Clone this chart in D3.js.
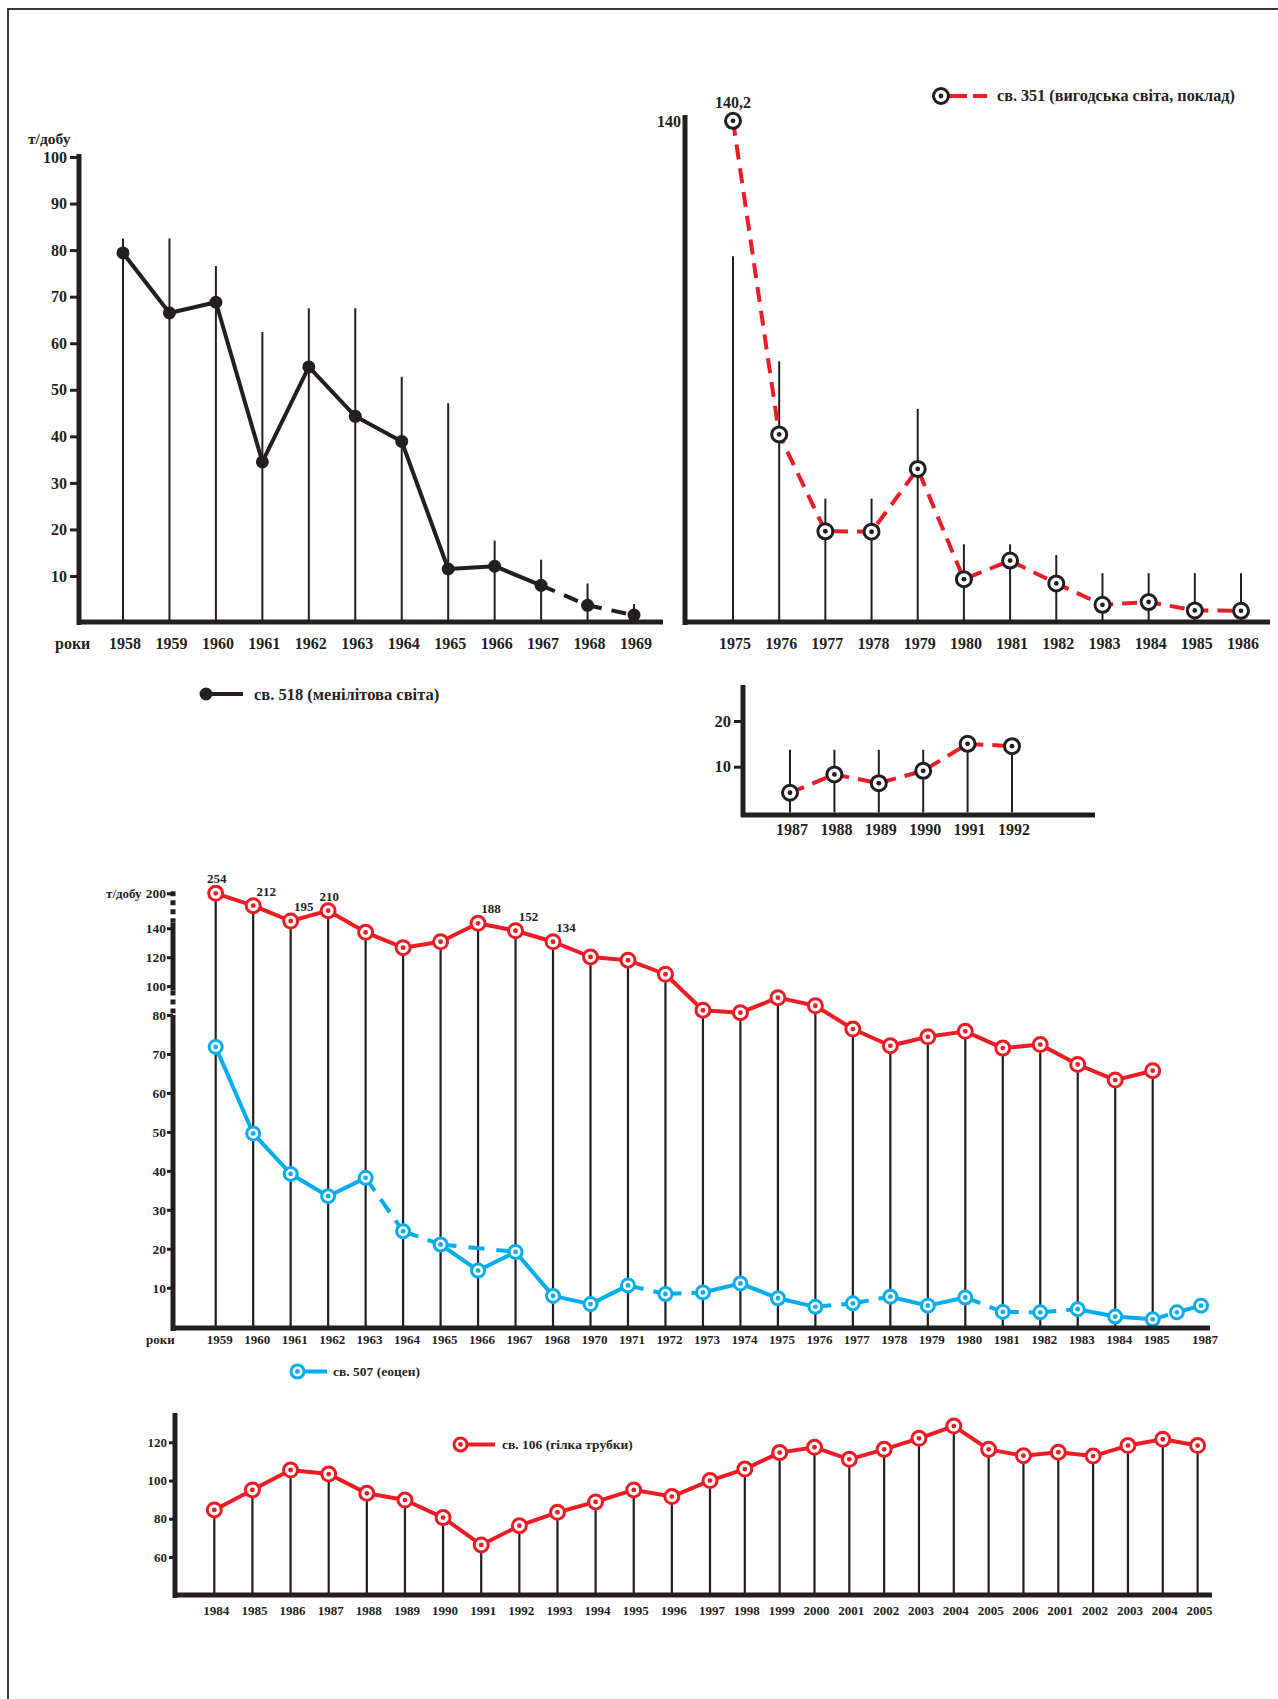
<!DOCTYPE html>
<html>
<head>
<meta charset="utf-8">
<script src="https://cdn.jsdelivr.net/npm/d3@7"></script>
<style>
body{margin:0;background:#fff;}
text{font-family:"Liberation Serif","Times New Roman",serif;font-weight:bold;fill:#231f20;}
</style>
</head>
<body>
<script>

// св. 518 (менілітова світа)
var years518 = [1958,1959,1960,1961,1962,1963,1964,1965,1966,1967,1968,1969]
var values518 = [79.4,66.5,68.8,34.5,54.9,44.3,38.9,11.5,12.1,8.0,3.7,1.6]
var tops518 = [82.5,82.5,76.6,62.4,67.5,67.5,52.8,47.1,17.6,13.5,8.4,4.0]
var ticks518 = [10,20,30,40,50,60,70,80,90,100]

// св. 351 (вигодська світа, поклад)
var years351 = [1975,1976,1977,1978,1979,1980,1981,1982,1983,1984,1985,1986]
var values351 = [140.2,40.4,19.6,19.5,33.0,9.3,13.3,8.4,3.8,4.4,2.6,2.5]
var tops351 = [78.7,56.1,26.6,26.6,45.9,16.8,16.8,14.5,10.6,10.6,10.6,10.6]

var years351b = [1987,1988,1989,1990,1991,1992]
var values351b = [4.3,8.3,6.4,9.1,15.0,14.5]
var tops351b = [13.7,13.7,13.7,13.7,15.0,14.5]
var ticks351b = [10,20]

// big chart: св. 507 (еоцен) and the red series
var years507 = ["1959","1960","1961","1962","1963","1964","1965","1966","1967","1968",
  "1970","1971","1972","1973","1974","1975","1976","1977","1978","1979","1980",
  "1981","1982","1983","1984","1985","","1987"]
var valuesRed = [200,178.8,152.5,170.2,137.2,126.6,130.7,148.6,138.3,130.7,
  120.2,117.9,108.2,83.3,81.6,92.0,86.4,76.4,72.1,74.4,75.8,71.5,72.4,67.3,63.3,65.7]
var values507 = [71.8,49.6,39.2,33.5,38.2,24.5,21.1,14.4,19.2,7.9,
  5.8,10.6,8.4,8.8,11.1,7.3,5.1,6.0,7.7,5.4,7.5,3.8,3.7,4.5,2.6,1.9,3.7,5.4]
// s = solid, d = dashed, for each step of the blue line
var steps507 = ["s","s","s","s","d","d","s","s","s","s","s","d","d","s","s","s",
  "d","d","s","s","d","d","d","s","s","d","s"]
var ticksBig = [10,20,30,40,50,60,70,80,100,120,140,200]
var notesYear = ["1959","1960","1961","1962","1966","1967","1968"]
var notesText = ["254","212","195","210","188","152","134"]

// св. 106 (гілка трубки)
var years106 = ["1984","1985","1986","1987","1988","1989","1990","1991","1992","1993",
  "1994","1995","1996","1997","1998","1999","2000","2001","2002","2003","2004","2005",
  "2006","2001","2002","2003","2004","2005"]
var values106 = [84.6,95.1,105.5,103.4,93.3,89.8,80.6,66.3,76.4,83.4,88.8,95.1,91.6,
  100.0,106.0,114.6,117.4,111.1,116.3,122.1,128.5,116.3,113.0,114.8,112.8,118.3,121.6,118.3]
var ticks106 = [60,80,100,120]


var ink = "#231f20", red = "#ed1c24", blue = "#00aeef"

var svg = d3.select("body").append("svg")
  .attr("width",1278)
  .attr("height",1699)
  .style("display","block")

// frame
svg.append("line").attr("x1",7).attr("x2",1278).attr("y1",9).attr("y2",9)
  .attr("stroke","#3a3a3a").attr("stroke-width",2)
svg.append("line").attr("x1",8).attr("x2",8).attr("y1",8).attr("y2",1699)
  .attr("stroke","#3a3a3a").attr("stroke-width",2)


var thick = function(x1,y1,x2,y2,w)
{
  svg.append("line").attr("x1",x1).attr("y1",y1).attr("x2",x2).attr("y2",y2)
    .attr("stroke",ink).attr("stroke-width",w || 5)
}

var yAxis = function(scale,x,ticks,size,tick,pad)
{
  var ax = d3.axisLeft(scale).tickValues(ticks).tickSize(tick).tickSizeOuter(0).tickPadding(pad)
  var g = svg.append("g").attr("transform","translate(" + x + ",0)").call(ax)
  g.select(".domain").remove()
  g.selectAll(".tick line").attr("stroke",ink).attr("stroke-width",3)
  g.selectAll(".tick text").attr("font-size",size)
  return g
}

var label = function(x,y,txt,size,anchor)
{
  svg.append("text").attr("x",x).attr("y",y).attr("font-size",size)
    .attr("text-anchor",anchor || "start").text(txt)
}

var stems = function(xs,y0,ys,w)
{
  svg.append("g").selectAll("line")
    .data(xs)
    .enter()
    .append("line")
    .attr("x1",function(d){return d})
    .attr("x2",function(d){return d})
    .attr("y1",y0)
    .attr("y2",function(d,i){return ys[i]})
    .attr("stroke",ink)
    .attr("stroke-width",w)
}

var rings = function(pts,color,r)
{
  var m = svg.append("g").selectAll("g")
    .data(pts)
    .enter()
    .append("g")
    .attr("transform",function(d){return "translate(" + d[0] + "," + d[1] + ")"})
  m.append("circle").attr("r",r).attr("fill","#fff").attr("stroke",color).attr("stroke-width",3)
  m.append("circle").attr("r",2.4).attr("fill",color)
}

var path = function(pts,color,dash,w)
{
  svg.append("path")
    .attr("d",d3.line()(pts))
    .attr("fill","none")
    .attr("stroke",color)
    .attr("stroke-width",w || 4)
    .attr("stroke-linejoin","round")
    .attr("stroke-dasharray",dash || null)
}


// ---------- panel 1: св. 518 ----------
var x1 = d3.scaleLinear().domain([1958,1969]).range([123,634])
var y1 = d3.scaleLinear().domain([10,100]).range([576,157])

stems(years518.map(x1),y1(0),tops518.map(y1),2)
var p518 = years518.map(function(d,i){return [x1(d),y1(values518[i])]})
path(p518.slice(0,10),ink)
path(p518.slice(9),ink,"15,10")
svg.append("g").selectAll("circle")
  .data(p518)
  .enter()
  .append("circle")
  .attr("cx",function(d){return d[0]})
  .attr("cy",function(d){return d[1]})
  .attr("r",6.5)
  .attr("fill",ink)

thick(79,y1(100)-3,79,625)
thick(77,622,663,622)
yAxis(y1,79,ticks518,16,9,3)
label(28,144,"т/добу",15.5)
label(55,649,"роки",16)
years518.forEach(function(d){label(x1(d)+2,649,d,16,"middle")})

svg.append("circle").attr("cx",206).attr("cy",694).attr("r",6.5).attr("fill",ink)
thick(206,694,243,694,4)
label(254,700,"св. 518 (менілітова світа)",16.5)


// ---------- panel 2: св. 351 ----------
var x2 = d3.scaleLinear().domain([1975,1986]).range([733,1241])
var y2 = d3.scaleLinear().domain([0,100,140]).range([622.5,157,121])

stems(years351.map(x2),y2(0),tops351.map(y2),2)
var p351 = years351.map(function(d,i){return [x2(d),y2(values351[i])]})
path(p351,red,"15,9")
rings(p351,ink,7.5)

thick(685,115,685,625)
thick(683,622,1270,622)
label(681,127,"140",16,"end")
label(x2(1975),108,"140,2",16,"middle")
years351.forEach(function(d){label(x2(d)+2,649,d,16,"middle")})

path([[947,96],[988,96]],red,"20,6,14")
rings([[941,96]],ink,7.5)
label(997,101,"св. 351 (вигодська світа, поклад)",16.2)


// ---------- panel 3: св. 351, 1987-1992 ----------
var x3 = d3.scaleLinear().domain([1987,1992]).range([790,1012])
var y3 = d3.scaleLinear().domain([10,20]).range([766.7,721])

stems(years351b.map(x3),y3(0),tops351b.map(y3),2)
var p351b = years351b.map(function(d,i){return [x3(d),y3(values351b[i])]})
path(p351b,red,"15,9")
rings(p351b,ink,7.5)

thick(743,685,743,817)
thick(741,815,1095,815)
yAxis(y3,743,ticks351b,16.5,9,3)
years351b.forEach(function(d){label(x3(d)+2,835,d,16,"middle")})


// ---------- panel 4: св. 507 and red series ----------
var x4 = d3.scaleLinear().domain([0,25,27]).range([215.7,1152.7,1201])
var y4 = d3.scaleLinear().domain([0,80,140,200]).range([1326.7,1015,928.3,893.3])

stems(valuesRed.map(function(d,i){return x4(i)}),y4(0),valuesRed.map(y4),2.2)

var pRed = valuesRed.map(function(d,i){return [x4(i),y4(d)]})
path(pRed,red)

var pBlue = values507.map(function(d,i){return [x4(i),y4(d)]})
steps507.forEach(function(s,i)
{
  path([pBlue[i],pBlue[i+1]],blue,s=="d" ? "16,10" : null)
})
// second, dashed run from 1965 to 1967
path([pBlue[6],pBlue[8]],blue,"16,12")

rings(pRed,red,7)
rings(pBlue,blue,6.5)

notesText.forEach(function(t,i)
{
  var k = years507.indexOf(notesYear[i])
  var centred = (t=="254" || t=="210")
  label(x4(k) + (centred ? 1 : 13),y4(valuesRed[k]) - 10,t,13,"middle")
})

// broken y axis
svg.append("line").attr("x1",173).attr("x2",173).attr("y1",y4(200)-2).attr("y2",y4(150))
  .attr("stroke",ink).attr("stroke-width",5).attr("stroke-dasharray","5,4")
thick(173,y4(150),173,y4(97))
svg.append("line").attr("x1",173).attr("x2",173).attr("y1",y4(97)).attr("y2",y4(80))
  .attr("stroke",ink).attr("stroke-width",5).attr("stroke-dasharray","5,4")
thick(173,y4(80),173,1331)
thick(171,1328,1210,1328)
yAxis(y4,173,ticksBig,13.5,6,1)
label(106,898,"т/добу",13)
label(146,1344,"роки",13)
years507.forEach(function(d,i){label(x4(i)+4,1344,d,13,"middle")})

path([[305,1371.5],[327,1371.5]],blue)
rings([[297.5,1371.5]],blue,6.5)
label(333,1376,"св. 507 (еоцен)",13.5)


// ---------- panel 5: св. 106 ----------
var x5 = d3.scaleLinear().domain([0,13,27]).range([214.3,710,1197.6])
var y5 = d3.scaleLinear().domain([60,120]).range([1557,1442.3])

stems(values106.map(function(d,i){return x5(i)}),y5(40),values106.map(y5),2.2)
var p106 = values106.map(function(d,i){return [x5(i),y5(d)]})
path(p106,red)
rings(p106,red,7)

thick(175,1413,175,1598)
thick(173,1595,1212,1595)
yAxis(y5,175,ticks106,13,6,2)
years106.forEach(function(d,i){label(x5(i)+2,1615,d,13,"middle")})

path([[467,1444.5],[495,1444.5]],red)
rings([[460.5,1444.5]],red,6.5)
label(502,1449,"св. 106 (гілка трубки)",13.5)

</script>
</body>
</html>
